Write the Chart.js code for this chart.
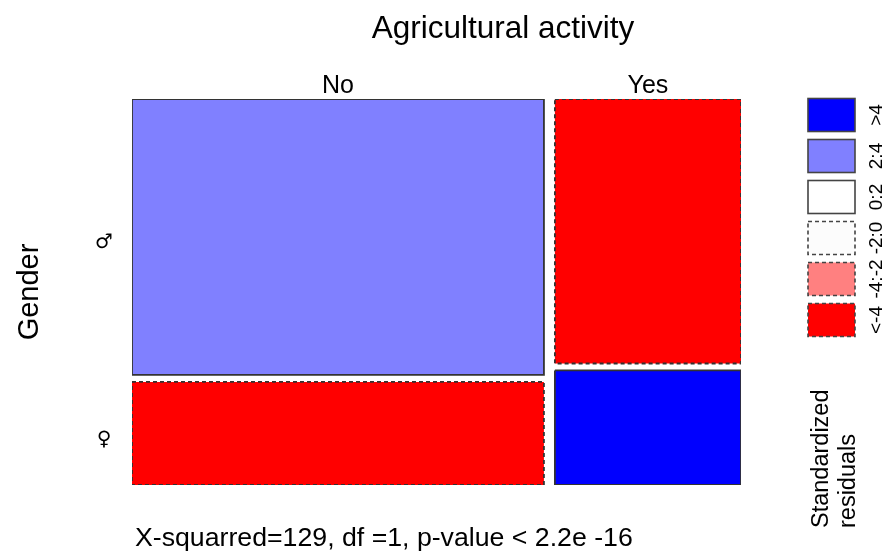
<!DOCTYPE html>
<html><head><meta charset="utf-8">
<script src="https://cdn.jsdelivr.net/npm/chart.js@4/dist/chart.umd.min.js"></script>
<style>html,body{margin:0;padding:0;background:#fff}</style>
</head><body>
<canvas id="c" width="887" height="555"></canvas>
<script>
// Contingency table: agricultural activity (columns) by gender (rows)
const activity = ['No', 'Yes'];
const gender = ['\u2642', '\u2640'];
const countsNo = [67200, 25100];   // [male, female]
const countsYes = [29100, 12600];  // [male, female]
const residualBins = ['>4', '2:4', '0:2', '-2:0', '-4:-2', '<-4'];
const binColors = ['#0000ff', '#8080ff', '#ffffff', '#fcfcfc', '#ff8080', '#ff0000'];
const titleText = 'Agricultural activity';
const rowTitle = 'Gender';
const legendTitle = ['Standardized', 'residuals'];
const testText = 'X-squarred=129, df =1, p-value < 2.2e -16';

const table = [countsNo, countsYes];
const total = table.flat().reduce((a, b) => a + b, 0);
const colTot = table.map(c => c[0] + c[1]);
const rowTot = [0, 1].map(j => table[0][j] + table[1][j]);
const GAP_X = 0.018, GAP_Y = 0.018;

function binOf(r) {
  if (r > 4) return 0;
  if (r > 2) return 1;
  if (r >= 0) return 2;
  if (r >= -2) return 3;
  if (r >= -4) return 4;
  return 5;
}

// mosaic tiles in unit coordinates, with Pearson residuals
const cells = [];
let xPos = 0;
table.forEach((col, i) => {
  const w = (1 - GAP_X) * colTot[i] / total;
  let yPos = 0;
  col.forEach((n, j) => {
    const h = (1 - GAP_Y) * n / colTot[i];
    const e = colTot[i] * rowTot[j] / total;
    const r = (n - e) / Math.sqrt(e);
    cells.push({ i, j, x0: xPos, x1: xPos + w, y0: yPos, y1: yPos + h, r });
    yPos += h + GAP_Y;
  });
  xPos += w + GAP_X;
});

const datasets = cells.map(c => {
  const b = binOf(c.r);
  return {
    label: activity[c.i] + ' / ' + gender[c.j],
    data: [
      { x: c.x0, y: c.y0 }, { x: c.x1, y: c.y0 },
      { x: c.x1, y: c.y1 }, { x: c.x0, y: c.y1 }, { x: c.x0, y: c.y0 }
    ],
    showLine: true,
    fill: 'shape',
    backgroundColor: binColors[b],
    borderColor: '#333333',
    borderWidth: 1.8,
    borderDash: c.r < 0 ? [4, 3] : [],
    pointRadius: 0,
    tension: 0
  };
});

const SANS = '"Liberation Sans", Arial, sans-serif';

const mosaicText = {
  id: 'mosaicText',
  afterDraw(chart) {
    const ctx = chart.ctx;
    const xs = chart.scales.x, ys = chart.scales.y;
    ctx.save();
    ctx.fillStyle = '#000';

    // title
    ctx.font = '31.5px ' + SANS;
    ctx.textAlign = 'center';
    ctx.textBaseline = 'middle';
    ctx.fillText(titleText, 503, 29);

    // column labels
    ctx.font = '25px ' + SANS;
    ctx.textBaseline = 'alphabetic';
    cells.filter(c => c.j === 0).forEach(c => {
      ctx.fillText(activity[c.i], xs.getPixelForValue((c.x0 + c.x1) / 2), 93);
    });

    // row labels
    ctx.font = '20px "DejaVu Sans", sans-serif';
    ctx.textBaseline = 'middle';
    cells.filter(c => c.i === 0).forEach(c => {
      ctx.fillText(gender[c.j], 104, ys.getPixelForValue((c.y0 + c.y1) / 2) + 6);
    });

    // row title
    ctx.save();
    ctx.translate(30, 292);
    ctx.rotate(-Math.PI / 2);
    ctx.font = '29px ' + SANS;
    ctx.fillText(rowTitle, 0, 0);
    ctx.restore();

    // shading legend
    const lx = 808, lw = 47, lh = 33, step = 41, ly0 = 98.5;
    residualBins.forEach((lab, k) => {
      const y = ly0 + k * step;
      ctx.fillStyle = binColors[k];
      ctx.fillRect(lx, y, lw, lh);
      ctx.strokeStyle = '#444444';
      ctx.lineWidth = 1.6;
      ctx.setLineDash(k >= 3 ? [4, 3] : []);
      ctx.strokeRect(lx, y, lw, lh);
      ctx.setLineDash([]);
      ctx.save();
      ctx.translate(877, y + lh / 2);
      ctx.rotate(-Math.PI / 2);
      ctx.fillStyle = '#000';
      ctx.font = '19px ' + SANS;
      ctx.textAlign = 'center';
      ctx.textBaseline = 'middle';
      ctx.fillText(lab, 0, 0);
      ctx.restore();
    });
    ctx.fillStyle = '#000';

    // legend title
    ctx.save();
    ctx.translate(0, 528);
    ctx.rotate(-Math.PI / 2);
    ctx.font = '23.5px ' + SANS;
    ctx.textAlign = 'left';
    ctx.textBaseline = 'middle';
    ctx.fillText(legendTitle[0], 0, 822);
    ctx.fillText(legendTitle[1], 0, 849);
    ctx.restore();

    // test statistic
    ctx.font = '26.7px ' + SANS;
    ctx.textAlign = 'left';
    ctx.textBaseline = 'alphabetic';
    ctx.fillText(testText, 135, 546);
    ctx.restore();
  }
};

new Chart(document.getElementById('c'), {
  type: 'scatter',
  data: { datasets },
  options: {
    responsive: false,
    animation: false,
    layout: { padding: { left: 132, right: 146, top: 99, bottom: 70 } },
    scales: {
      x: { type: 'linear', min: 0, max: 1, display: false },
      y: { type: 'linear', min: 0, max: 1, reverse: true, display: false }
    },
    plugins: { legend: { display: false }, tooltip: { enabled: false } }
  },
  plugins: [mosaicText]
});
</script>
</body></html>
